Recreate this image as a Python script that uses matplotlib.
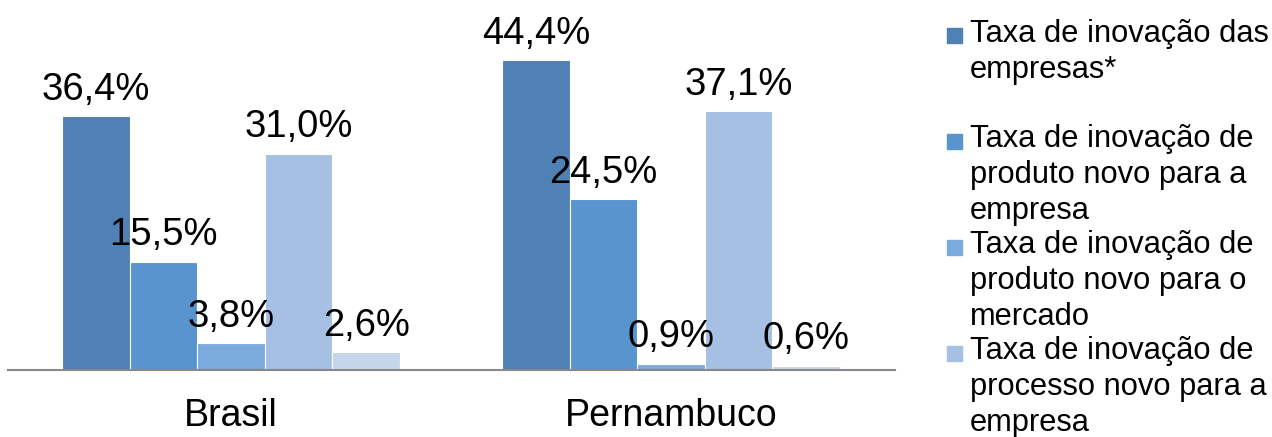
import matplotlib.pyplot as plt
from matplotlib.patches import Rectangle

plt.rcParams['font.family'] = ['Liberation Sans', 'DejaVu Sans']

regions = ["Brasil", "Pernambuco"]
series = [
    "Taxa de inovação das\nempresas*",
    "Taxa de inovação de\nproduto novo para a\nempresa",
    "Taxa de inovação de\nproduto novo para o\nmercado",
    "Taxa de inovação de\nprocesso novo para a\nempresa",
    "Taxa de inovação de\nprocesso novo para o\nsetor",
]
brasil = [36.4, 15.5, 3.8, 31.0, 2.6]
pernambuco = [44.4, 24.5, 0.9, 37.1, 0.6]
colors = ["#4F81B5", "#5895CE", "#7BAADC", "#A5C0E3", "#C5D6EC"]

W, H = 1272, 437
fig = plt.figure(figsize=(W / 100, H / 100), dpi=100)
ax = fig.add_axes([8 / W, 67 / H, 887 / W, 349 / H])

width = 0.1536
values = list(zip(brasil, pernambuco))
for i, name in enumerate(series):
    xs = [g + (i - 2) * width for g in range(len(regions))]
    bars = ax.bar(xs, values[i], width, color=colors[i], edgecolor="white", linewidth=0.8)
    for b, v in zip(bars, values[i]):
        ax.annotate(f"{v:.1f}%".replace(".", ","), (b.get_x() + b.get_width() / 2, v),
                    xytext=(0, 6), textcoords="offset points", ha="center", va="bottom",
                    fontsize=27.5, annotation_clip=False)

ax.set_xlim(-0.507, 1.509)
ax.set_ylim(0, 50)
ax.set_xticks(range(len(regions)))
ax.set_xticklabels(regions, fontsize=27)
ax.tick_params(axis="x", length=0, pad=20)
ax.set_yticks([])
for s in ["left", "right", "top"]:
    ax.spines[s].set_visible(False)
ax.spines["bottom"].set_color("#888888")
ax.spines["bottom"].set_linewidth(1.5)

# legend drawn by hand (square aligned with first text line)
base = 43
line_h = 35
for i, name in enumerate(series):
    y = base + i * 106
    if y > H:
        break
    nlines = name.count("\n")
    fig.patches.append(Rectangle((947 / W, 1 - y / H), 15 / W, 15 / H,
                                 transform=fig.transFigure, color=colors[i]))
    fig.text(970 / W, 1 - (y + nlines * line_h) / H, name, fontsize=22.2,
             va="baseline", ha="left", linespacing=1.27)

fig.savefig("out.png", dpi=100)
